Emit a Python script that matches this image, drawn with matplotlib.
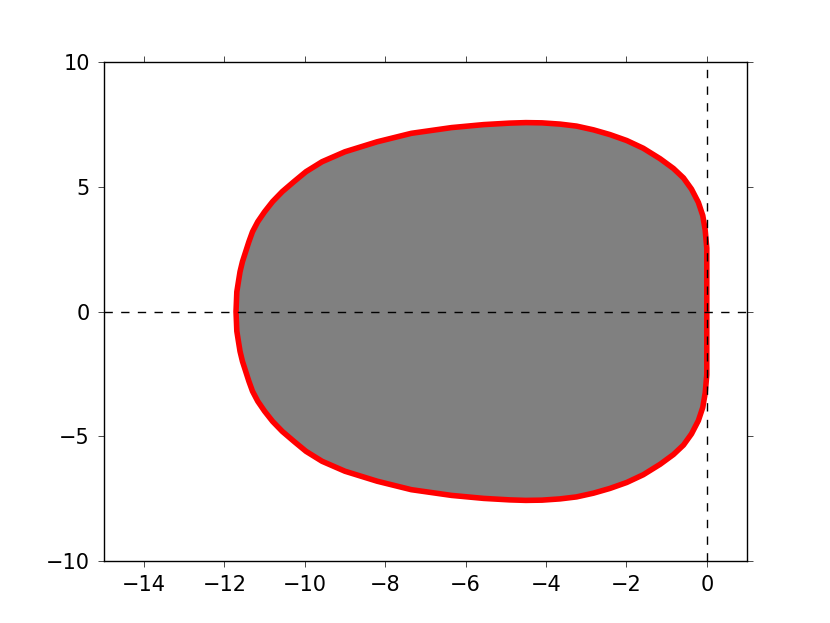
import matplotlib
matplotlib.use("Agg")
import matplotlib.pyplot as plt

# boundary of the region
# upper half: from the left tip, clockwise over the top to the origin
upper_x = [-11.71, -11.70, -11.69, -11.65, -11.61, -11.55, -11.47, -11.39,
           -11.30, -11.17, -11.00, -10.80, -10.56, -10.27, -9.97, -9.57,
           -9.00, -8.20, -7.35, -6.35, -5.55, -4.90, -4.50, -4.10, -3.65,
           -3.24, -2.82, -2.41, -1.99, -1.58, -1.16, -0.83, -0.58, -0.38,
           -0.21, -0.10, -0.04, 0.00, 0.00, 0.00, 0.00]
upper_y = [0.00, 0.39, 0.79, 1.20, 1.60, 2.00, 2.40, 2.80,
           3.20, 3.60, 4.00, 4.41, 4.81, 5.21, 5.61, 6.01,
           6.41, 6.81, 7.15, 7.38, 7.50, 7.56, 7.58, 7.57, 7.52,
           7.44, 7.29, 7.10, 6.86, 6.55, 6.13, 5.74, 5.36, 4.91,
           4.38, 3.85, 3.27, 2.54, 1.60, 0.80, 0.00]

# lower half: from the origin, under the bottom back to the left tip
lower_x = [0.00, 0.00, 0.00, 0.00, -0.04, -0.10, -0.21, -0.38, -0.58,
           -0.83, -1.16, -1.58, -1.99, -2.41, -2.82, -3.24, -3.65, -4.10,
           -4.50, -4.90, -5.55, -6.35, -7.35, -8.20, -9.00, -9.57, -9.97,
           -10.27, -10.56, -10.80, -11.00, -11.17, -11.30, -11.39, -11.47,
           -11.55, -11.61, -11.65, -11.69, -11.70, -11.71]
lower_y = [0.00, -0.80, -1.60, -2.54, -3.27, -3.85, -4.38, -4.91, -5.36,
           -5.74, -6.13, -6.55, -6.86, -7.10, -7.29, -7.44, -7.52, -7.57,
           -7.58, -7.56, -7.50, -7.38, -7.15, -6.81, -6.41, -6.01, -5.61,
           -5.21, -4.81, -4.41, -4.00, -3.60, -3.20, -2.80, -2.40,
           -2.00, -1.60, -1.20, -0.79, -0.39, 0.00]

x_ticks = [-14, -12, -10, -8, -6, -4, -2, 0]
y_ticks = [-10, -5, 0, 5, 10]

plt.rcParams['font.family'] = 'DejaVu Sans'
plt.rcParams['font.size'] = 15
plt.rcParams['lines.dashed_pattern'] = [6, 6]

fig = plt.figure(figsize=(8.3, 6.23), dpi=100)
ax = fig.add_axes([0.125, 0.1, 0.775, 0.8])

ax.fill(upper_x + lower_x, upper_y + lower_y, facecolor='#808080',
        edgecolor='red', linewidth=4, joinstyle='round', zorder=1)
ax.axhline(0, color='k', linestyle='--', linewidth=1, zorder=2)
ax.axvline(0, color='k', linestyle='--', linewidth=1, zorder=2)

ax.set_xlim(-15, 1)
ax.set_ylim(-10, 10)
ax.set_xticks(x_ticks)
ax.set_yticks(y_ticks)
ax.set_xticklabels([f"{t}".replace('-', '\u2212') for t in x_ticks])
ax.set_yticklabels([f"{t}".replace('-', '\u2212') for t in y_ticks])
ax.tick_params(direction='out', length=4, width=0.5, color='k',
               top=True, right=True, pad=6)
for s in ax.spines.values():
    s.set_linewidth(1.0)

fig.savefig("out.png", dpi=100)
